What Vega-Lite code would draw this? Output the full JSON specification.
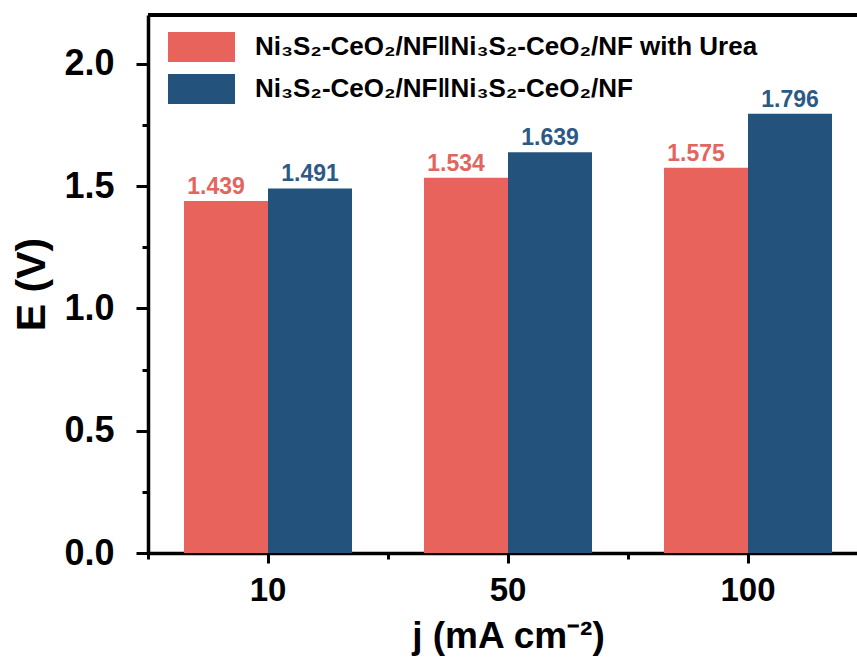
{
  "$schema": "https://vega.github.io/schema/vega-lite/v6.json",
  "width": 709,
  "height": 538,
  "autosize": {"type": "none"},
  "padding": {"left": 148, "top": 15, "right": 0, "bottom": 106},
  "background": "white",
  "config": {
    "view": {"stroke": null},
    "font": "Liberation Sans",
    "axis": {"grid": false, "domainColor": "black", "tickColor": "black", "labelColor": "black", "titleColor": "black"}
  },
  "data": {
    "values": [
      {"j": "10", "series": "Ni₃S₂-CeO₂/NF‖Ni₃S₂-CeO₂/NF with Urea", "E": 1.439},
      {"j": "10", "series": "Ni₃S₂-CeO₂/NF‖Ni₃S₂-CeO₂/NF", "E": 1.491},
      {"j": "50", "series": "Ni₃S₂-CeO₂/NF‖Ni₃S₂-CeO₂/NF with Urea", "E": 1.534},
      {"j": "50", "series": "Ni₃S₂-CeO₂/NF‖Ni₃S₂-CeO₂/NF", "E": 1.639},
      {"j": "100", "series": "Ni₃S₂-CeO₂/NF‖Ni₃S₂-CeO₂/NF with Urea", "E": 1.575},
      {"j": "100", "series": "Ni₃S₂-CeO₂/NF‖Ni₃S₂-CeO₂/NF", "E": 1.796}
    ]
  },
  "resolve": {"scale": {"x": "independent"}, "axis": {"x": "independent", "y": "independent"}},
  "layer": [
    {
      "mark": {"type": "bar", "strokeWidth": 0},
      "encoding": {
        "x": {
          "field": "j", "type": "nominal", "sort": ["10", "50", "100"],
          "scale": {"domain": ["10", "50", "100"], "range": [0, 720], "paddingInner": 0.3, "paddingOuter": 0.15},
          "axis": {
            "orient": "bottom", "labelAngle": 0, "domainWidth": 3.5, "tickWidth": 3, "tickSize": 10,
            "labelFontSize": 33, "labelFontWeight": "bold", "labelPadding": 11,
            "title": "j (mA cm⁻²)", "titleFontSize": 37, "titleFontWeight": "bold", "titlePadding": 11
          }
        },
        "xOffset": {
          "field": "series", "type": "nominal",
          "sort": ["Ni₃S₂-CeO₂/NF‖Ni₃S₂-CeO₂/NF with Urea", "Ni₃S₂-CeO₂/NF‖Ni₃S₂-CeO₂/NF"],
          "scale": {"paddingInner": 0, "paddingOuter": 0}
        },
        "y": {
          "field": "E", "type": "quantitative",
          "scale": {"domain": [0, 2.2], "nice": false, "zero": true},
          "axis": {
            "orient": "left", "values": [0, 0.5, 1, 1.5, 2], "format": ".1f",
            "domainWidth": 3.5, "tickWidth": 3, "tickSize": 12,
            "labelFontSize": 36, "labelFontWeight": "bold", "labelPadding": 22,
            "title": "E (V)", "titleFontSize": 41, "titleFontWeight": "bold", "titlePadding": 10
          }
        },
        "color": {
          "field": "series", "type": "nominal",
          "scale": {
            "domain": ["Ni₃S₂-CeO₂/NF‖Ni₃S₂-CeO₂/NF with Urea", "Ni₃S₂-CeO₂/NF‖Ni₃S₂-CeO₂/NF"],
            "range": ["#E8635C", "#23537D"]
          },
          "legend": {
            "orient": "none", "legendX": 20, "legendY": 11, "title": null,
            "symbolType": "M-1,-0.45H1V0.45H-1Z", "symbolSize": 4489, "symbolStrokeWidth": 0, "symbolOpacity": 1,
            "labelFontSize": 26, "labelFontWeight": "bold", "labelColor": "black",
            "labelOffset": 20, "rowPadding": 0, "clipHeight": 42, "labelLimit": 800
          }
        }
      }
    },
    {
      "mark": {"type": "bar", "opacity": 0},
      "encoding": {
        "x": {
          "field": "j", "type": "nominal", "sort": ["10", "50", "100"],
          "scale": {"domain": ["10", "50", "100"], "range": [0, 720], "paddingInner": 0, "paddingOuter": 0},
          "axis": {"orient": "bottom", "tickBand": "extent", "labels": false, "domain": false, "tickWidth": 3, "tickSize": 6, "title": null}
        },
        "y": {
          "field": "E", "type": "quantitative",
          "axis": {"orient": "left", "values": [0.25, 0.75, 1.25, 1.75], "labels": false, "domain": false, "tickWidth": 3, "tickSize": 6, "title": null}
        }
      }
    },
    {
      "transform": [{"filter": "datum.series == 'Ni₃S₂-CeO₂/NF‖Ni₃S₂-CeO₂/NF with Urea'"}],
      "mark": {"type": "text", "dx": -10, "dy": -7, "baseline": "alphabetic", "fontSize": 23, "fontWeight": "bold", "color": "#E2665F"},
      "encoding": {
        "x": {"field": "j", "type": "nominal", "sort": ["10", "50", "100"], "axis": null,
          "scale": {"domain": ["10", "50", "100"], "range": [0, 720], "paddingInner": 0.3, "paddingOuter": 0.15}},
        "xOffset": {"field": "series", "type": "nominal", "sort": ["Ni₃S₂-CeO₂/NF‖Ni₃S₂-CeO₂/NF with Urea", "Ni₃S₂-CeO₂/NF‖Ni₃S₂-CeO₂/NF"],
          "scale": {"domain": ["Ni₃S₂-CeO₂/NF‖Ni₃S₂-CeO₂/NF with Urea", "Ni₃S₂-CeO₂/NF‖Ni₃S₂-CeO₂/NF"], "paddingInner": 0, "paddingOuter": 0}},
        "y": {"field": "E", "type": "quantitative", "axis": null},
        "text": {"field": "E", "type": "quantitative", "format": ".3f"}
      }
    },
    {
      "transform": [{"filter": "datum.series == 'Ni₃S₂-CeO₂/NF‖Ni₃S₂-CeO₂/NF'"}],
      "mark": {"type": "text", "dx": 0, "dy": -7, "baseline": "alphabetic", "fontSize": 23, "fontWeight": "bold", "color": "#2C5A85"},
      "encoding": {
        "x": {"field": "j", "type": "nominal", "sort": ["10", "50", "100"], "axis": null,
          "scale": {"domain": ["10", "50", "100"], "range": [0, 720], "paddingInner": 0.3, "paddingOuter": 0.15}},
        "xOffset": {"field": "series", "type": "nominal", "sort": ["Ni₃S₂-CeO₂/NF‖Ni₃S₂-CeO₂/NF with Urea", "Ni₃S₂-CeO₂/NF‖Ni₃S₂-CeO₂/NF"],
          "scale": {"domain": ["Ni₃S₂-CeO₂/NF‖Ni₃S₂-CeO₂/NF with Urea", "Ni₃S₂-CeO₂/NF‖Ni₃S₂-CeO₂/NF"], "paddingInner": 0, "paddingOuter": 0}},
        "y": {"field": "E", "type": "quantitative", "axis": null},
        "text": {"field": "E", "type": "quantitative", "format": ".3f"}
      }
    },
    {
      "mark": {"type": "rule", "color": "black", "strokeWidth": 3.5},
      "encoding": {
        "y": {"datum": 2.2, "type": "quantitative", "axis": null}
      }
    }
  ]
}
